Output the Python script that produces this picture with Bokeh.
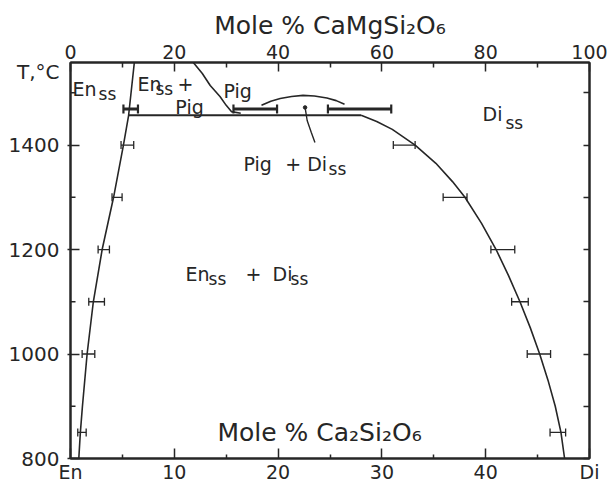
import numpy as np
from bokeh.plotting import figure
from bokeh.models import Range1d, LinearAxis, FixedTicker, ColumnDataSource
from bokeh.core.properties import value
from bokeh.embed import file_html
from bokeh.resources import INLINE

# ---------------- data (bottom: Mole % Ca2Si2O6, En=0 .. Di=50; top: Mole % CaMgSi2O6) -------------
x_ticks = [0, 10, 20, 30, 40, 50]
x_tick_labels = {0: "En", 10: "10", 20: "20", 30: "30", 40: "40", 50: "Di"}
top_ticks = [0, 20, 40, 60, 80, 100]
y_ticks = [800, 1000, 1200, 1400]
y_minor_ticks = [900, 1100, 1300, 1500]
y_all_ticks = [800, 900, 1000, 1100, 1200, 1300, 1400, 1500]
y_unit_pos = 1539
y_tick_labels = {800: "800", 1000: "1000", 1200: "1200", 1400: "1400", y_unit_pos: "T,°C"}

# experimental brackets (horizontal error bars)
en_T = [850, 1000, 1100, 1200, 1300, 1400]
en_lo = [0.70, 1.12, 1.76, 2.66, 4.00, 4.87]
en_hi = [1.51, 2.34, 3.27, 3.75, 4.97, 6.09]

di_T = [850, 1000, 1100, 1200, 1300, 1400]
di_lo = [46.2, 44.0, 42.5, 40.5, 35.9, 31.1]
di_hi = [47.7, 46.25, 44.1, 42.8, 38.2, 33.2]

bold_T = [1469, 1469, 1469]
bold_lo = [5.1, 15.7, 24.8]
bold_hi = [6.5, 19.9, 30.9]

# phase boundaries
en_solvus_x = [0.8, 0.95, 1.15, 1.6, 2.2, 3.05, 4.15, 5.1, 5.6, 6.15]
en_solvus_T = [800, 850, 900, 1000, 1100, 1200, 1300, 1400, 1457, 1558]

di_solvus_x = [28.0, 29.5, 31.0, 33.2, 35.2, 36.8, 38.0, 39.6, 41.0, 42.2, 43.3,
               44.3, 45.2, 46.0, 46.7, 47.25, 47.6]
di_solvus_T = [1457, 1445, 1430, 1400, 1365, 1330, 1300, 1250, 1200, 1150, 1100,
               1050, 1000, 950, 900, 850, 800]

pig_x = [11.83, 12.7, 13.46, 14.4, 15.0, 15.5, 16.4]
pig_T = [1558, 1537, 1514, 1493, 1476, 1464, 1461]

dome_x = [18.4, 19.3, 20.2, 21.3, 22.4, 23.5, 24.7, 25.6, 26.4]
dome_T = [1476, 1484, 1489, 1493, 1495, 1494, 1490, 1485, 1478]

iso_x = [5.6, 28.0]
iso_T = [1457, 1457]

pointer_x = [22.6, 22.8, 23.2, 23.55]
pointer_T = [1472, 1447, 1424, 1405]

# ---------------- figure ----------------
ink = "#262626"
FONT = "DejaVu Sans"

p = figure(width=608, height=487, x_range=Range1d(0, 50), y_range=Range1d(800, 1558),
           output_backend="svg", toolbar_location=None,
           x_axis_location=None, y_axis_location=None,
           min_border_left=70, min_border_right=19, min_border_top=62, min_border_bottom=29)
p.grid.visible = False
p.outline_line_color = ink
p.outline_line_width = 2
p.background_fill_color = "white"
p.border_fill_color = "white"
p.extra_x_ranges = {"top": Range1d(0, 100)}


def style_axis(ax, size):
    ax.axis_line_color = ink
    ax.axis_line_width = 2
    ax.major_tick_line_color = ink
    ax.minor_tick_line_color = ink
    ax.major_tick_line_width = 1.5
    ax.minor_tick_line_width = 1.5
    ax.major_label_text_font = FONT
    ax.major_label_text_font_size = size
    ax.major_label_text_color = ink


xb = LinearAxis(ticker=FixedTicker(ticks=x_ticks, minor_ticks=[5, 15, 25, 35, 45]),
                major_label_overrides=x_tick_labels)
style_axis(xb, "19px")
xb.major_tick_in = 10
xb.major_tick_out = 0
xb.minor_tick_in = 4
xb.minor_tick_out = 0
xb.major_label_standoff = 2
p.add_layout(xb, "below")

xt = LinearAxis(x_range_name="top",
                ticker=FixedTicker(ticks=top_ticks, minor_ticks=[10, 30, 50, 70, 90]),
                axis_label="Mole % CaMgSi₂O₆")
style_axis(xt, "19px")
xt.major_tick_in = 9
xt.major_tick_out = 0
xt.minor_tick_in = 5
xt.minor_tick_out = 0
xt.major_label_standoff = 4
xt.axis_label_standoff = 2
xt.axis_label_text_font = FONT
xt.axis_label_text_font_size = "25px"
xt.axis_label_text_font_style = "normal"
xt.axis_label_text_color = ink
p.add_layout(xt, "above")

# left: labels (incl. the "T,°C" unit) carried by zero-length major ticks;
# the visible marks at labelled temperatures are drawn as the axis' minor ticks
yl = LinearAxis(ticker=FixedTicker(ticks=y_ticks + [y_unit_pos], minor_ticks=y_ticks),
                major_label_overrides=y_tick_labels)
style_axis(yl, "20px")
yl.major_tick_in = 0
yl.major_tick_out = 0
yl.minor_tick_in = 9
yl.minor_tick_out = 3
yl.major_label_standoff = 8
p.add_layout(yl, "left")

# short inward marks at the unlabelled temperatures on the left side (5 px long)
tick_len = 5 / 10.38
p.segment(x0=[0] * len(y_minor_ticks), y0=y_minor_ticks,
          x1=[tick_len] * len(y_minor_ticks), y1=y_minor_ticks, line_color=ink, line_width=1.5)

# right side: unlabeled inward ticks only (minor ticks carry no labels)
yr = LinearAxis(ticker=FixedTicker(ticks=[], minor_ticks=y_all_ticks))
style_axis(yr, "19px")
yr.minor_tick_in = 6
yr.minor_tick_out = 0
yr.major_label_standoff = 0
p.add_layout(yr, "right")

# ---------------- curves ----------------
p.line(en_solvus_x, en_solvus_T, line_color=ink, line_width=1.6)
p.line(di_solvus_x, di_solvus_T, line_color=ink, line_width=1.6)
p.line(pig_x, pig_T, line_color=ink, line_width=1.6)
p.line(dome_x, dome_T, line_color=ink, line_width=1.6)
p.line(iso_x, iso_T, line_color=ink, line_width=2)
p.line(pointer_x, pointer_T, line_color=ink, line_width=1.4)
p.scatter([pointer_x[0]], [pointer_T[0]], size=3.5, color=ink)

# ---------------- error bars ----------------
for T, lo, hi, lw, cap in [(en_T, en_lo, en_hi, 1.3, 8), (di_T, di_lo, di_hi, 1.3, 8),
                           (bold_T, bold_lo, bold_hi, 3.0, 9)]:
    p.segment(x0=lo, y0=T, x1=hi, y1=T, line_color=ink, line_width=lw)
    p.scatter(lo + hi, T + T, marker="dash", angle=np.pi / 2, size=cap,
              line_color=ink, line_width=min(lw, 2.2))

# ---------------- region labels ----------------
main_pieces = [
    (0.19, 1508, "En"), (6.45, 1517, "En"), (10.3, 1517.7, "+"), (10.1, 1473.7, "Pig"),
    (14.74, 1504, "Pig"), (39.7, 1460, "Di"),
    (16.67, 1364.6, "Pig"), (20.7, 1364.6, "+"), (22.8, 1364.6, "Di"),
    (11.08, 1154, "En"), (16.86, 1154, "+"), (19.46, 1154, "Di"),
]
sub_pieces = [
    (2.70, 1498.6, "ss"), (8.19, 1507.6, "ss"), (41.9, 1443, "ss"),
    (24.86, 1355, "ss"), (13.3, 1144.5, "ss"), (21.2, 1144.5, "ss"),
]
for pieces, size in [(main_pieces, "19px"), (sub_pieces, "17px")]:
    src = ColumnDataSource(dict(x=[a for a, b, c in pieces], y=[b for a, b, c in pieces],
                                t=[c for a, b, c in pieces]))
    p.text(x="x", y="y", text="t", source=src, text_font=value(FONT), text_font_size=value(size),
           text_color=ink, text_align="left", text_baseline="alphabetic")

p.text(x=[14.16], y=[850.3], text=["Mole % Ca₂Si₂O₆"], text_font=value(FONT),
       text_font_size=value("25px"), text_color=ink, text_align="left", text_baseline="alphabetic")

open("out.html", "w").write(file_html(p, INLINE))
